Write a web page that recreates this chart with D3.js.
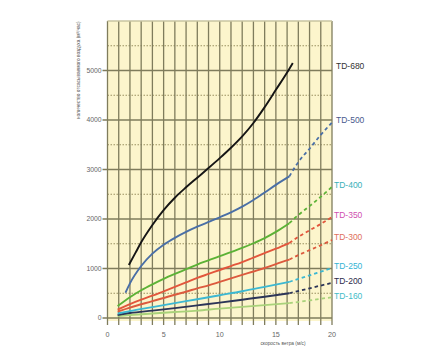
<!DOCTYPE html>
<html>
  <head>
    <meta charset="utf-8">
    <title>TD fans - air volume vs wind speed</title>
    <script src="https://d3js.org/d3.v7.min.js"></script>
    <style>
      body { margin: 0; background: #fff; }
      text { font-family: "Liberation Sans", Arial, sans-serif; }
    </style>
  </head>
  <body>
    <svg width="440" height="360"></svg>
    <script>
      // wind speed (m/s) vs air volume (m3/h)
      const seriesNames = ["TD-680", "TD-500", "TD-400", "TD-350", "TD-300", "TD-250", "TD-200", "TD-160"];
      const seriesColors = ["#151515", "#4a6fa6", "#5cb236", "#e2563c", "#dc5a3e", "#3cb8d2", "#2c3558", "#a9d27a"];
      const labelColors = ["#333333", "#4a5a8e", "#3ab0b8", "#d04fb0", "#e0705c", "#34b4d4", "#2c2c4c", "#44bcc8"];

      const td680 = [[1.9, 1070], [2.5, 1320], [3, 1530], [4, 1880], [5, 2180], [6, 2430], [7, 2640], [8, 2835],
                     [9, 3030], [10, 3230], [11, 3440], [12, 3670], [13, 3940], [14, 4260], [15, 4610], [16, 4960], [16.5, 5150]];
      const td500 = [[1.6, 510], [2, 700], [3, 1050], [4, 1300], [5, 1480], [6, 1620], [7, 1740], [8, 1845], [9, 1940],
                     [10, 2035], [11, 2135], [12, 2250], [13, 2385], [14, 2535], [15, 2690], [16.2, 2860]];
      const td400 = [[0.9, 240], [2, 420], [3, 560], [4, 680], [5, 790], [6, 890], [7, 985], [8, 1080], [9, 1165],
                     [10, 1250], [11, 1330], [12, 1415], [13, 1510], [14, 1615], [15, 1740], [16.2, 1915]];
      const td350 = [[0.9, 170], [2, 280], [3, 370], [4, 450], [5, 540], [6, 630], [7, 720], [8, 810], [9, 890],
                     [10, 970], [11, 1050], [12, 1130], [13, 1220], [14, 1310], [15, 1400], [16.2, 1515]];
      const td300 = [[0.9, 130], [2, 210], [4, 340], [6, 470], [7, 530], [8, 600], [9, 660], [10, 730], [11, 800],
                     [12, 870], [13, 940], [14, 1010], [15, 1090], [16.2, 1180]];
      const td250 = [[0.9, 90], [2, 140], [4, 220], [6, 300], [8, 380], [10, 460], [12, 540], [14, 630], [16.2, 730]];
      const td200 = [[0.9, 60], [2, 100], [4, 150], [6, 200], [8, 255], [10, 310], [12, 370], [14, 430], [16.2, 500]];
      const td160 = [[0.9, 40], [2, 60], [4, 90], [6, 120], [8, 150], [10, 190], [12, 225], [14, 260], [16.2, 300]];

      // dashed extrapolation beyond 16 m/s (none for TD-680)
      const td500ext = [[16.2, 2860], [17, 3150], [18, 3420], [19, 3700], [20, 3950]];
      const td400ext = [[16.2, 1915], [17, 2080], [18, 2260], [19, 2450], [20, 2650]];
      const td350ext = [[16.2, 1515], [17, 1640], [18, 1770], [19, 1900], [20, 2040]];
      const td300ext = [[16.2, 1180], [17, 1270], [18, 1370], [19, 1470], [20, 1575]];
      const td250ext = [[16.2, 730], [17, 790], [18, 860], [19, 935], [20, 1010]];
      const td200ext = [[16.2, 500], [18, 600], [20, 710]];
      const td160ext = [[16.2, 300], [18, 355], [20, 420]];

      const solid = [td680, td500, td400, td350, td300, td250, td200, td160];
      const dashed = [null, td500ext, td400ext, td350ext, td300ext, td250ext, td200ext, td160ext];
      // y value where each label sits, next to the right border
      const labelValues = [5100, 3990, 2680, 2090, 1630, 1050, 750, 440];

      const xTicks = [0, 5, 10, 15, 20];
      const yTicks = [0, 1000, 2000, 3000, 4000, 5000];

      const svg = d3.select("svg");

      const x = d3.scaleLinear().domain([0, 20]).range([107.5, 332]);
      const y = d3.scaleLinear().domain([0, 6000]).range([318, 21]);
      const bottom = y(0) + 3;

      // plot background
      svg.append("rect")
        .attr("x", x(0)).attr("y", y(6000))
        .attr("width", x(20) - x(0)).attr("height", bottom - y(6000))
        .attr("fill", "#fcf5cc");

      // dotted half lines
      svg.append("g").selectAll("line")
        .data(d3.range(500, 6000, 1000))
        .enter().append("line")
        .attr("x1", x(0)).attr("x2", x(20))
        .attr("y1", d => y(d)).attr("y2", d => y(d))
        .attr("stroke", "#9a9060").attr("stroke-width", 1)
        .attr("stroke-dasharray", "1.5,1.5");

      // vertical grid, one per m/s
      svg.append("g").selectAll("line")
        .data(d3.range(0, 21))
        .enter().append("line")
        .attr("x1", d => x(d)).attr("x2", d => x(d))
        .attr("y1", y(6000)).attr("y2", bottom + 4)
        .attr("stroke", "#7f7c5c").attr("stroke-width", 1.3);

      // solid horizontal grid
      svg.append("g").selectAll("line")
        .data(yTicks.concat([6000]))
        .enter().append("line")
        .attr("x1", d => d === 6000 ? x(0) : x(0) - 5).attr("x2", x(20))
        .attr("y1", d => y(d)).attr("y2", d => y(d))
        .attr("stroke", d => d === 6000 ? "#c8c4a0" : "#7f7c5c").attr("stroke-width", 1.3);

      // tick labels
      svg.append("g").selectAll("text")
        .data(yTicks)
        .enter().append("text")
        .attr("x", x(0) - 6).attr("y", d => y(d) + 2.3)
        .attr("text-anchor", "end")
        .attr("font-size", 6.8).attr("fill", "#666")
        .text(d => d);

      svg.append("g").selectAll("text")
        .data(xTicks)
        .enter().append("text")
        .attr("x", d => x(d)).attr("y", 337)
        .attr("text-anchor", "middle")
        .attr("font-size", 7.2).attr("fill", "#666")
        .text(d => d);

      // axis titles
      svg.append("text")
        .attr("transform", `translate(80,70) rotate(-90)`)
        .attr("text-anchor", "middle")
        .attr("font-size", 4.8).attr("fill", "#555")
        .text("количество отсасываемого воздуха (м³/час)");

      svg.append("text")
        .attr("x", 283).attr("y", 345)
        .attr("text-anchor", "middle")
        .attr("font-size", 4.8).attr("fill", "#555")
        .text("скорость ветра (м/с)");

      const line = d3.line()
        .x(d => x(d[0]))
        .y(d => y(d[1]))
        .curve(d3.curveMonotoneX);

      // dashed ends first, then solid curves
      svg.append("g").selectAll("path")
        .data(dashed.map((d, i) => ({ d, i })).filter(o => o.d))
        .enter().append("path")
        .attr("d", o => line(o.d))
        .attr("fill", "none")
        .attr("stroke", o => seriesColors[o.i])
        .attr("stroke-width", 1.8)
        .attr("stroke-dasharray", "3.5,3");

      svg.append("g").selectAll("path")
        .data(solid.map((d, i) => ({ d, i })).reverse())
        .enter().append("path")
        .attr("d", o => line(o.d))
        .attr("fill", "none")
        .attr("stroke", o => seriesColors[o.i])
        .attr("stroke-width", 1.9);

      // series labels at the right
      svg.append("g").selectAll("text")
        .data(seriesNames)
        .enter().append("text")
        .attr("x", (d, i) => i < 2 ? x(20) + 4 : x(20) + 2)
        .attr("y", (d, i) => y(labelValues[i]) + 3)
        .attr("font-size", 8.5)
        .attr("fill", (d, i) => labelColors[i])
        .text(d => d);
    </script>
  </body>
</html>
